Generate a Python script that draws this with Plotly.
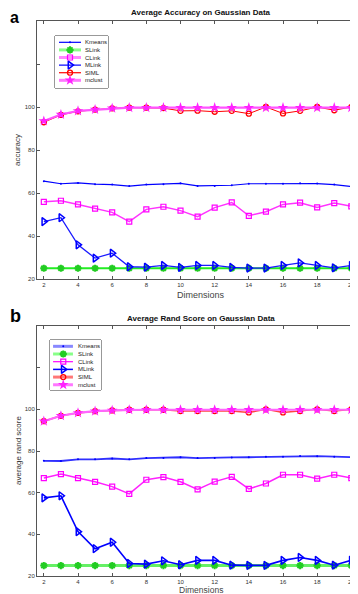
import plotly.graph_objects as go

dims = list(range(2, 22))

# Panel a: Average Accuracy
acc_kmeans = [65.5, 64.3, 64.7, 64.1, 63.9, 63.2, 63.9, 64.1, 64.5, 63.3, 63.3, 63.6, 64.3, 64.3, 64.3, 64.5, 64.4, 63.9, 63.0, 63.3]
acc_slink = [25.0] * 20
acc_clink = [55.9, 56.4, 54.7, 52.7, 51.0, 46.7, 52.4, 53.6, 51.8, 49.0, 53.2, 55.6, 49.4, 51.3, 54.7, 55.5, 53.3, 55.3, 53.8, 54.1]
acc_mlink = [46.7, 48.5, 35.9, 29.7, 32.0, 25.7, 25.5, 26.3, 25.4, 26.3, 26.3, 25.4, 25.1, 25.1, 26.3, 27.5, 26.3, 25.2, 26.3, 25.1]
acc_siml = [92.9, 96.3, 98.0, 98.8, 99.4, 99.7, 99.7, 99.5, 98.2, 98.3, 97.8, 98.2, 96.9, 100.0, 97.0, 98.2, 100.0, 98.5, 100.0, 98.8]
acc_mclust = [93.5, 96.5, 98.2, 98.8, 99.4, 99.7, 99.7, 99.7, 99.7, 99.7, 99.7, 99.7, 99.7, 99.7, 99.7, 99.7, 99.7, 99.7, 99.7, 99.7]

# Panel b: Average Rand Score
rand_kmeans = [75.3, 75.2, 76.0, 76.0, 76.4, 76.0, 76.6, 76.7, 77.0, 76.6, 76.6, 76.9, 77.0, 77.2, 77.3, 77.6, 77.5, 77.3, 77.0, 77.2]
rand_slink = [25.0] * 20
rand_clink = [67.0, 68.9, 67.0, 65.2, 62.9, 59.4, 66.2, 67.5, 65.2, 61.6, 65.3, 67.6, 61.8, 64.4, 68.6, 68.6, 66.7, 68.6, 67.0, 67.0]
rand_mlink = [57.5, 58.5, 41.3, 33.1, 36.2, 26.0, 25.7, 27.3, 25.4, 27.5, 27.5, 25.2, 25.1, 25.1, 27.5, 28.9, 27.5, 25.2, 27.6, 25.2]
rand_siml = [94.3, 96.9, 98.3, 99.1, 99.5, 99.8, 99.8, 99.8, 99.2, 99.2, 99.2, 99.2, 98.5, 100.0, 98.5, 99.2, 100.0, 99.2, 100.0, 99.7]
rand_mclust = [94.3, 96.9, 98.3, 99.1, 99.5, 99.8, 99.8, 99.8, 99.8, 99.8, 99.8, 99.8, 99.8, 99.8, 99.8, 99.8, 99.8, 99.8, 99.8, 99.8]

names = ["Kmeans", "SLink", "CLink", "MLink", "SIML", "mclust"]
y_tickvals = [20, 40, 60, 80, 100, 120, 140]
y_ticktext = ["20", "40", "60", "80", "100", "", ""]
x_tickvals = [2, 4, 6, 8, 10, 12, 14, 16, 18, 20]

FONT = "Liberation Sans, Arial, Helvetica, sans-serif"

markers = [
    dict(symbol="circle", size=2, color="#0000ff"),
    dict(symbol="asterisk-open", size=6, color="#22cc22", line=dict(width=2, color="#22cc22")),
    dict(symbol="square-open", size=5, color="#ff00ff", line=dict(width=1.2, color="#ff00ff")),
    dict(symbol="triangle-right-open", size=7, color="#0000ff", line=dict(width=1.5, color="#0000ff")),
    dict(symbol="circle-open", size=5, color="#ff0000", line=dict(width=1.3, color="#ff0000")),
    dict(symbol="star", size=8, color="#ff22ff"),
]
lines_a = [
    dict(color="#0000ff", width=1.2),
    dict(color="#22ee22", width=2),
    dict(color="#ff33ff", width=1.5),
    dict(color="#1a1aff", width=1.3),
    dict(color="#ff0000", width=1),
    dict(color="#ff55ff", width=2.2),
]
lines_b = [
    dict(color="#3030ff", width=1.8),
    dict(color="#66f066", width=3),
    dict(color="#ff22ff", width=1.5),
    dict(color="#0000ff", width=1.6),
    dict(color="#ff4444", width=1.5),
    dict(color="#ff66ff", width=2.2),
]
# line styles shown in the legend keys
leg_lines_a = [
    dict(color="#0000ff", width=1.2),
    dict(color="#88ff88", width=3),
    dict(color="#ff88ff", width=3),
    dict(color="#0000ff", width=1.2),
    dict(color="#ff0000", width=1.2),
    dict(color="#ff77ff", width=3),
]
leg_lines_b = [
    dict(color="#8888ff", width=3),
    dict(color="#88ff88", width=3),
    dict(color="#ff00ff", width=1.2),
    dict(color="#0000ff", width=1.5),
    dict(color="#ff7777", width=3),
    dict(color="#ff77ff", width=3),
]

fig = go.Figure()
series_a = [acc_kmeans, acc_slink, acc_clink, acc_mlink, acc_siml, acc_mclust]
series_b = [rand_kmeans, rand_slink, rand_clink, rand_mlink, rand_siml, rand_mclust]
for n, ys, ln, mk in zip(names, series_a, lines_a, markers):
    fig.add_trace(go.Scatter(x=dims, y=ys, name=n, mode="lines+markers", xaxis="x", yaxis="y",
                             line=ln, marker=mk, showlegend=False))
for n, ys, ln, mk in zip(names, series_b, lines_b, markers):
    fig.add_trace(go.Scatter(x=dims, y=ys, name=n, mode="lines+markers", xaxis="x2", yaxis="y2",
                             line=ln, marker=mk, showlegend=False))

# compact legend keys drawn on helper axes (row index = legend entry)
legend_specs = [
    dict(xa="x3", ya="y3", lines=leg_lines_a, x0=0.075, x1=0.49, xm=0.283, xt=0.53),
    dict(xa="x4", ya="y4", lines=leg_lines_b, x0=0.06, x1=0.45, xm=0.26, xt=0.51),
]
annotations = []
for spec in legend_specs:
    for i, (n, ln, mk) in enumerate(zip(names, spec["lines"], markers)):
        fig.add_trace(go.Scatter(x=[spec["x0"], spec["x1"]], y=[i, i], mode="lines", line=ln,
                                 xaxis=spec["xa"], yaxis=spec["ya"], showlegend=False, hoverinfo="skip"))
        fig.add_trace(go.Scatter(x=[spec["xm"]], y=[i], mode="markers", marker=mk,
                                 xaxis=spec["xa"], yaxis=spec["ya"], showlegend=False, hoverinfo="skip"))
        annotations.append(dict(text=n, x=spec["xt"], y=i, xref=spec["xa"], yref=spec["ya"],
                                xanchor="left", yanchor="middle", showarrow=False,
                                font=dict(size=6, color="#222222")))

axis_common = dict(showline=True, linecolor="#555555", linewidth=1, mirror="allticks",
                   ticks="inside", ticklen=3, tickcolor="#555555", showgrid=False, zeroline=False,
                   tickfont=dict(size=6, color="#333333", family=FONT))
hidden = dict(visible=False, showgrid=False, zeroline=False, fixedrange=True)

M_T, M_B = 13, 26
PLOT_BOTTOM = 594 - M_B
PLOT_H = 594 - M_T - M_B

def px_y(py):
    return (PLOT_BOTTOM - py) / PLOT_H

def px_x(pxx):
    return (pxx - 29) / 328.0

fig.update_layout(
    width=358, height=594,
    margin=dict(l=29, r=1, t=M_T, b=M_B),
    paper_bgcolor="white", plot_bgcolor="white",
    showlegend=False,
    font=dict(family=FONT),
    xaxis=dict(domain=[0, 1], anchor="y", range=[1.6, 20.8], tickvals=x_tickvals, **axis_common),
    yaxis=dict(domain=[px_y(271), 1.0], anchor="x", range=[20, 140], tickvals=y_tickvals, ticktext=y_ticktext, **axis_common),
    xaxis2=dict(domain=[0, 1], anchor="y2", range=[1.6, 20.8], tickvals=x_tickvals, **axis_common),
    yaxis2=dict(domain=[0, px_y(318)], anchor="x2", range=[20, 140], tickvals=y_tickvals, ticktext=y_ticktext, **axis_common),
    xaxis3=dict(domain=[px_x(47), px_x(100)], anchor="y3", range=[0, 1], **hidden),
    yaxis3=dict(domain=[px_y(80), px_y(28)], anchor="x3", range=[6.01, -0.83], **hidden),
    xaxis4=dict(domain=[px_x(42), px_x(93)], anchor="y4", range=[0, 1], **hidden),
    yaxis4=dict(domain=[px_y(382), px_y(332)], anchor="x4", range=[5.68, -0.82], **hidden),
)

shapes = [
    dict(type="rect", xref="x3 domain", yref="y3 domain", x0=0, x1=1, y0=0, y1=1,
         line=dict(color="#333333", width=1), fillcolor="white", layer="below"),
    dict(type="rect", xref="x4 domain", yref="y4 domain", x0=0, x1=1, y0=0, y1=1,
         line=dict(color="#333333", width=1), fillcolor="white", layer="below"),
]

texts = [
    dict(text="<b>Average Accuracy on Gaussian Data</b>", x=px_x(193), y=px_y(5), font=dict(size=8, color="#111111")),
    dict(text="<b>Average Rand Score on Gaussian Data</b>", x=px_x(193), y=px_y(310), font=dict(size=8, color="#111111")),
    dict(text="<b>a</b>", x=px_x(0), y=px_y(9), xanchor="left", font=dict(size=16, color="black")),
    dict(text="<b>b</b>", x=px_x(0), y=px_y(308), xanchor="left", font=dict(size=18, color="black")),
    dict(text="Dimensions", x=px_x(193), y=px_y(287), font=dict(size=9, color="#444444")),
    dict(text="Dimensions", x=px_x(193), y=px_y(582), font=dict(size=8.5, color="#444444")),
    dict(text="accuracy", x=px_x(10), y=px_y(142), textangle=-90, font=dict(size=8, color="#333333")),
    dict(text="average rand score", x=px_x(10), y=px_y(443), textangle=-90, font=dict(size=8, color="#333333")),
]
for a in texts:
    a.setdefault("xanchor", "center")
    a.setdefault("yanchor", "middle")
    a.update(xref="paper", yref="paper", showarrow=False)
annotations.extend(texts)
fig.update_layout(annotations=annotations, shapes=shapes)

fig.write_html("out.html")
